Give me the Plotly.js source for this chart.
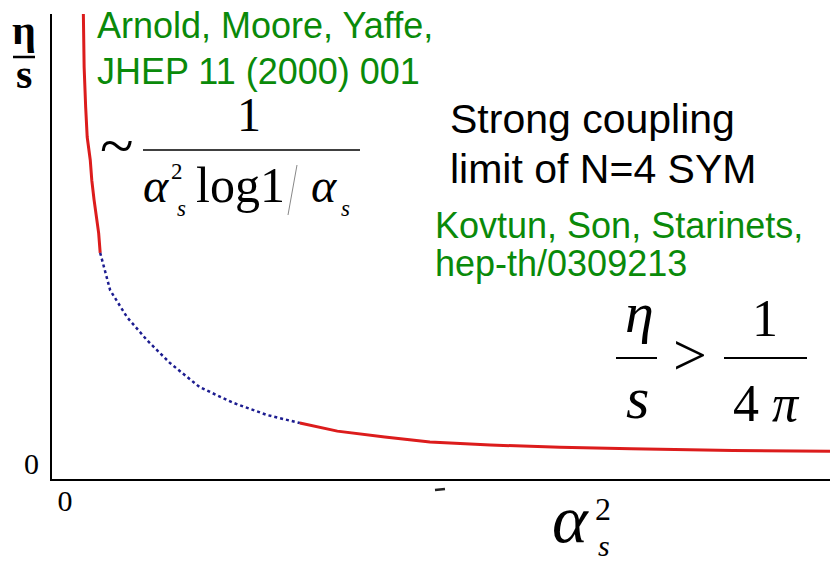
<!DOCTYPE html>
<html>
<head>
<meta charset="utf-8">
<script src="https://cdn.plot.ly/plotly-3.0.1.min.js"></script>
<style>
  html, body { margin: 0; padding: 0; background: #fff; }
  #chart { width: 830px; height: 562px; }
</style>
</head>
<body>
<div id="chart"></div>
<script>
// Shear viscosity to entropy ratio versus coupling: weak-coupling branch (red),
// intermediate region (blue dotted), approach to the strong-coupling bound (red).
const weakX = [0.24, 0.25, 0.27, 0.29, 0.33, 0.35, 0.38, 0.41, 0.44, 0.46];
const weakY = [10.0, 8.82, 7.93, 7.26, 6.75, 6.30, 5.86, 5.48, 5.12, 4.68];

const midX = [0.46, 0.59, 0.81, 1.07, 1.37, 1.76, 2.20, 2.64, 3.07];
const midY = [4.68, 3.85, 3.25, 2.74, 2.23, 1.69, 1.34, 1.07, 0.89];

const strongX = [3.07, 3.56, 4.18, 4.77, 5.56, 6.47, 7.40, 8.73, 10.0];
const strongY = [0.89, 0.71, 0.58, 0.47, 0.40, 0.35, 0.32, 0.28, 0.26];

const xTickVals = [0];
const xTickText = ['0'];
const yTickVals = [0];
const yTickText = ['0'];

const W = 830, H = 562;
const M = { l: 52, r: 0, t: 14, b: 83 };
const PW = W - M.l - M.r, PH = H - M.t - M.b;
const AX = H - M.b;

// pixel position -> paper fraction
const px = x => (x - M.l) / PW;
const py = y => (AX - y) / PH;

const SANS = 'Liberation Sans, Arial, sans-serif';
const SERIF = 'Liberation Serif, Times New Roman, serif';
const GREEN = '#0a8a0a';

// text placed by its baseline
function label(text, x, baseline, size, opts) {
  opts = opts || {};
  return {
    xref: 'paper', yref: 'paper',
    x: px(x), y: py(baseline - 0.345 * size),
    xanchor: opts.anchor || 'left', yanchor: 'middle',
    text: text, showarrow: false, borderpad: 0,
    font: { family: opts.family || SANS, size: size, color: opts.color || '#000' }
  };
}
function rule(x0, y0, x1, y1, width, color) {
  return {
    type: 'line', xref: 'paper', yref: 'paper',
    x0: px(x0), y0: py(y0), x1: px(x1), y1: py(y1),
    line: { color: color || '#000', width: width }
  };
}

const annotations = [
  // axis quantity labels
  label('<b>η</b>', 24, 44, 42, { family: SERIF, anchor: 'center' }),
  label('<b>s</b>', 24, 88, 42, { family: SERIF, anchor: 'center' }),
  label('<i>α</i>', 570, 542, 68, { family: SERIF, anchor: 'center' }),
  label('2', 603, 520, 32, { family: SERIF, anchor: 'center' }),
  label('<i>s</i>', 604, 556, 30, { family: SERIF, anchor: 'center' }),

  // references
  label('Arnold, Moore, Yaffe,', 96, 38, 36, { color: GREEN }),
  label('JHEP 11 (2000) 001', 96, 84, 36, { color: GREEN }),
  label('Strong coupling', 449, 133, 41),
  label('limit of N=4 SYM', 449, 183, 41),
  label('Kovtun, Son, Starinets,', 434, 238, 36, { color: GREEN }),
  label('hep-th/0309213', 434, 276, 36, { color: GREEN }),

  // weak-coupling scaling
  label('~', 117, 166, 62, { family: SERIF, anchor: 'center' }),
  label('1', 249, 131, 48, { family: SERIF, anchor: 'center' }),
  label('<i>α</i>', 156, 202, 48, { family: SERIF, anchor: 'center' }),
  label('2', 177, 179, 23, { family: SERIF, anchor: 'center' }),
  label('<i>s</i>', 181, 216, 23, { family: SERIF, anchor: 'center' }),
  label('log1', 240, 202, 50, { family: SERIF, anchor: 'center' }),
  label('<i>α</i>', 324, 202, 48, { family: SERIF, anchor: 'center' }),
  label('<i>s</i>', 345, 216, 23, { family: SERIF, anchor: 'center' }),

  // strong-coupling bound
  label('<i>η</i>', 639, 333, 58, { family: SERIF, anchor: 'center' }),
  label('<i>s</i>', 637, 419, 60, { family: SERIF, anchor: 'center' }),
  label('>', 690, 376, 60, { family: SERIF, anchor: 'center' }),
  label('1', 765, 336, 52, { family: SERIF, anchor: 'center' }),
  label('4 <i>π</i>', 766, 421, 52, { family: SERIF, anchor: 'center' })
];

const shapes = [
  rule(13, 57, 35, 57, 2.5),
  rule(143, 150, 360, 150, 1.5),
  rule(297, 165, 288, 215, 1, '#888'),
  rule(616, 358, 657, 358, 2),
  rule(724, 358, 807, 358, 2),
  rule(435, 490, 445, 489, 2.5, '#222')
];

const traces = [
  { x: weakX, y: weakY, mode: 'lines', line: { color: '#dc1c1c', width: 3 }, hoverinfo: 'skip' },
  { x: midX, y: midY, mode: 'lines', line: { color: '#1c1c90', width: 2.5, dash: 'dot' }, hoverinfo: 'skip' },
  { x: strongX, y: strongY, mode: 'lines', line: { color: '#dc1c1c', width: 3 }, hoverinfo: 'skip' }
];

const layout = {
  width: W, height: H,
  margin: M,
  paper_bgcolor: '#fff', plot_bgcolor: '#fff',
  showlegend: false,
  xaxis: {
    range: [-0.17, 10], showgrid: false, zeroline: false,
    showline: true, linecolor: '#000', linewidth: 2, ticks: '',
    tickvals: xTickVals, ticktext: xTickText,
    ticklabelstandoff: -6,
    tickfont: { family: SERIF, size: 30, color: '#000' }
  },
  yaxis: {
    range: [-0.356, 10], showgrid: false, zeroline: false,
    showline: true, linecolor: '#000', linewidth: 2, ticks: '',
    tickvals: yTickVals, ticktext: yTickText,
    ticklabelstandoff: 5,
    tickfont: { family: SERIF, size: 30, color: '#000' }
  },
  annotations: annotations,
  shapes: shapes
};

Plotly.newPlot('chart', traces, layout, { staticPlot: true, displayModeBar: false });
</script>
</body>
</html>
